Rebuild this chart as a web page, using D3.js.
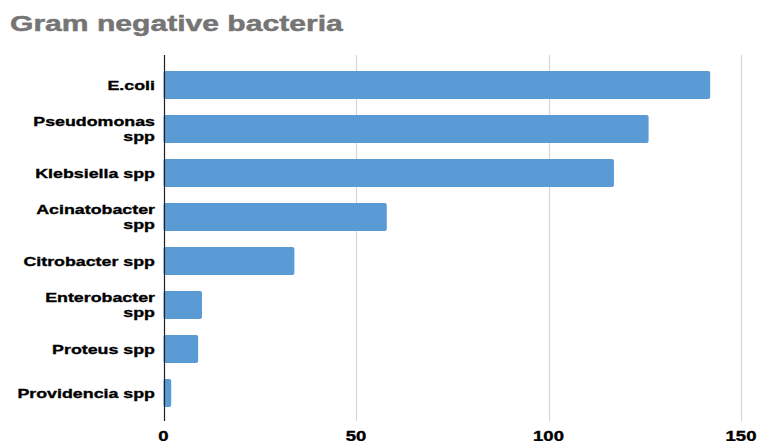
<!DOCTYPE html>
<html><head><meta charset="utf-8">
<script src="https://cdn.jsdelivr.net/npm/d3@7"></script>
<style>body{margin:0;background:#fff}svg{display:block}</style>
</head><body>
<svg id="c" width="757" height="441"></svg>
<script>
const title = "Gram negative bacteria";
const categories = ["E.coli", "Pseudomonas\nspp", "Klebsiella spp", "Acinatobacter\nspp", "Citrobacter spp", "Enterobacter\nspp", "Proteus spp", "Providencia spp"];
const values = [142, 126, 117, 58, 34, 10, 9, 2];
const ticks = [0, 50, 100, 150];

const svg = d3.select("#c");
const SX = 1.32;
const font = "'Liberation Sans', Arial, sans-serif";

const x = d3.scaleLinear().domain([0, 150]).range([163.5, 741]);
const y = d3.scaleBand().domain(categories).range([63, 415]).paddingInner(16/44).paddingOuter(8/44);

// title
svg.append("text").attr("transform", `translate(10,31) scale(${SX},1)`)
  .attr("font-family", font).attr("font-weight", "bold").attr("font-size", 22.8)
  .attr("fill", "#757575").attr("stroke", "#757575").attr("stroke-width", 0.5).text(title);

// gridlines
svg.append("g").selectAll("line").data(ticks.filter(t => t > 0)).join("line")
  .attr("x1", d => Math.round(x(d)) + 0.5).attr("x2", d => Math.round(x(d)) + 0.5)
  .attr("y1", 55).attr("y2", 421).attr("stroke", "#d6d6d6").attr("stroke-width", 1.2);

// bars
svg.append("g").selectAll("rect").data(values).join("rect")
  .attr("x", x(0)).attr("y", (d, i) => y(categories[i]))
  .attr("width", d => x(d) - x(0)).attr("height", y.bandwidth())
  .attr("rx", 2).attr("fill", "#5b9bd5");

// axis line at zero
svg.append("line").attr("x1", Math.round(x(0)) + 0.5).attr("x2", Math.round(x(0)) + 0.5)
  .attr("y1", 55).attr("y2", 421).attr("stroke", "#222").attr("stroke-width", 1.2);

// category labels
const lab = svg.append("g");
categories.forEach(c => {
  const lines = c.split("\n");
  const cy = y(c) + y.bandwidth() / 2;
  const lh = 15;
  const base0 = cy + 4.85 - (lines.length - 1) * lh / 2;
  lines.forEach((ln, k) => {
    lab.append("text").attr("transform", `translate(155,${base0 + k * lh}) scale(${SX},1)`)
      .attr("text-anchor", "end").attr("font-family", font).attr("font-weight", "bold")
      .attr("font-size", 13.5).attr("fill", "#000").attr("stroke", "#000").attr("stroke-width", 0.35).text(ln);
  });
});

// tick labels
svg.append("g").selectAll("text").data(ticks).join("text")
  .attr("transform", d => `translate(${x(d)},440.5) scale(${SX},1)`)
  .attr("text-anchor", "middle").attr("font-family", font).attr("font-weight", "bold")
  .attr("font-size", 14).attr("fill", "#000").attr("stroke", "#000").attr("stroke-width", 0.35).text(d => d);
</script>
</body></html>
